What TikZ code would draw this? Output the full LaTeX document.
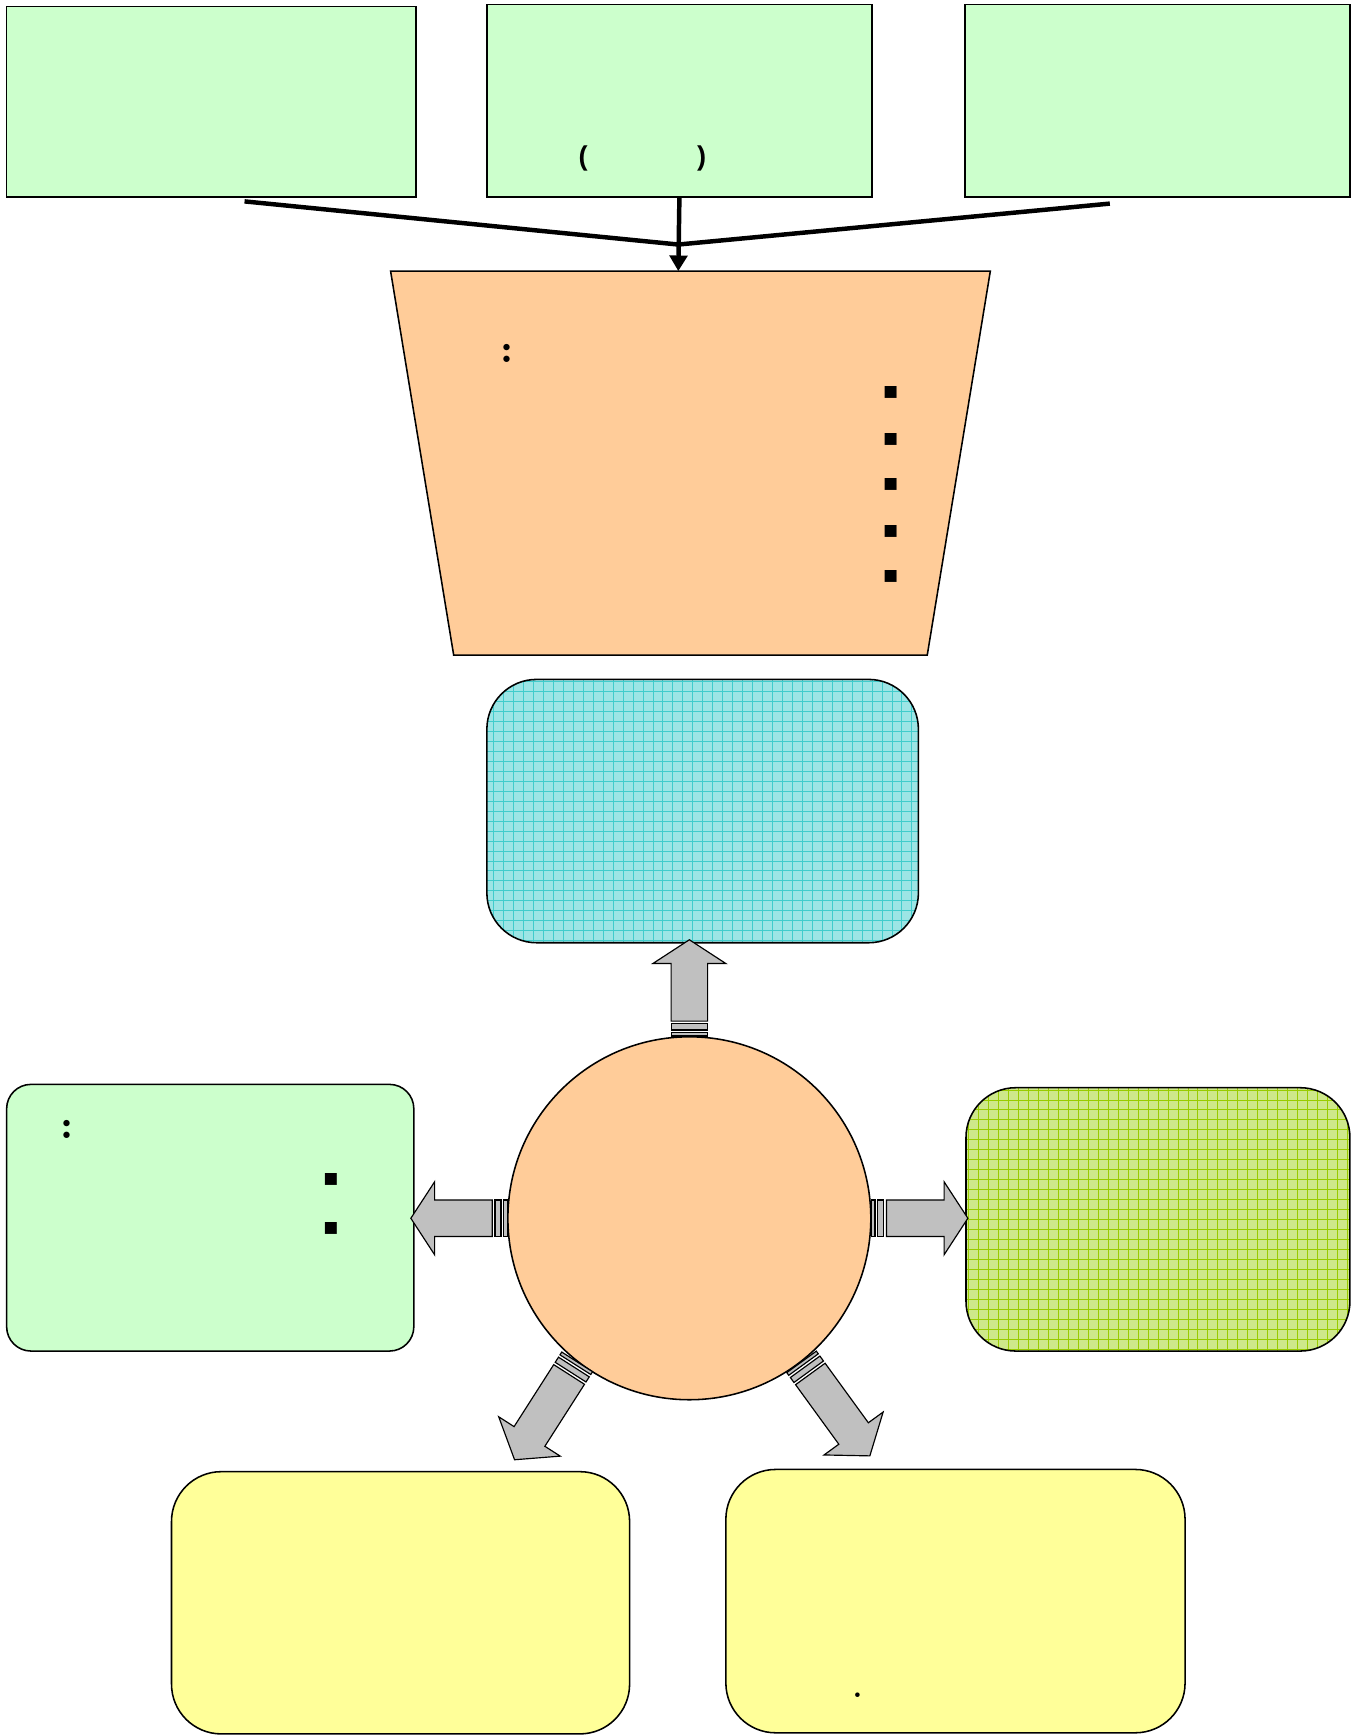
\documentclass[tikz,border=0pt]{standalone}
\usepackage{fontspec}
\setmainfont{Liberation Sans}
\newfontfamily\dejavu{DejaVu Sans}
\newfontfamily\lmfont{lmroman10-bold.otf}
\usetikzlibrary{arrows.meta,calc}
\definecolor{boxgreen}{HTML}{CCFFCC}
\definecolor{boxorange}{HTML}{FFCC99}
\definecolor{boxyellow}{HTML}{FFFF99}
\definecolor{cyanbase}{HTML}{9CE5E5}
\definecolor{cyanline}{HTML}{40CCCC}
\definecolor{limebase}{HTML}{CEE88A}
\definecolor{limeline}{HTML}{99CC00}
\definecolor{arrowgray}{HTML}{C0C0C0}
\begin{document}
\begin{tikzpicture}[x=0.2mm,y=-0.2mm,
  plainbox/.style={draw=black,line width=0.8pt,rectangle,inner sep=0pt},
  roundbox/.style={draw=black,line width=0.8pt,rectangle,rounded corners=9mm,inner sep=0pt},
  gridfill/.style n args={2}{fill=#1,path picture={\draw[#2,line width=0.35pt] (path picture bounding box.south west) grid[step=1.8mm] (path picture bounding box.north east);}},
  connector/.style={line width=2.3pt},
  grayarrow/.style={draw=black,line width=0.6pt,fill=arrowgray,line join=miter},
  punct/.style={inner sep=0pt,font=\bfseries\fontsize{14}{16}\selectfont},
  colonmark/.style={inner sep=0pt,font=\lmfont\fontsize{21}{23}\selectfont},
  dotmark/.style={inner sep=0pt,font=\lmfont\fontsize{15}{17}\selectfont},
  bullet/.style={inner sep=0pt,font=\dejavu\fontsize{8}{9}\selectfont},
  fatarrow/.pic={
    \draw[grayarrow] (0,-16.5) rectangle (3,16.5);
    \draw[grayarrow] (5.5,-16.5) rectangle (11,16.5);
    \draw[grayarrow] (13.5,-16.5) -- (65.5,-16.5) -- (65.5,-33) -- (87,0) -- (65.5,33) -- (65.5,16.5) -- (13.5,16.5) -- cycle;
  },
  longarrow/.pic={
    \draw[grayarrow] (0,-16.5) rectangle (3,16.5);
    \draw[grayarrow] (5.5,-16.5) rectangle (11,16.5);
    \draw[grayarrow] (13.5,-16.5) -- (80,-16.5) -- (80,-33) -- (105,0) -- (80,33) -- (80,16.5) -- (13.5,16.5) -- cycle;
  }]
\useasboundingbox[fill=white] (0,0) rectangle (1229,1568);

% top boxes
\node[plainbox,fill=boxgreen,minimum width=370*0.2mm,minimum height=172*0.2mm] (tl) at (191,92) {};
\node[plainbox,fill=boxgreen,minimum width=348*0.2mm,minimum height=174*0.2mm] (tm) at (614,91) {};
\node[plainbox,fill=boxgreen,minimum width=348*0.2mm,minimum height=174*0.2mm] (tr) at (1046,91) {};
\node[punct] (lp) at (527,143) {(};
\node[punct] (rp) at (634,143) {)};

% trapezoid
\draw[line width=0.8pt,fill=boxorange] (353,245) -- (895,245) -- (838,592) -- (410,592) -- cycle;
\coordinate (traptop) at (613,245);
\node[colonmark] (tcolon) at (458,319) {:};
\foreach \yy [count=\i] in {355,397,438,480,521}
  \node[bullet] (tb\i) at (805,\yy) {■};

% connectors
\coordinate (la) at (221,182);
\coordinate (ra) at (1003,184);
\coordinate (meet) at (613,221);
\draw[connector] (la) -- (meet) -- (ra);
\draw[connector,-{Triangle[width=9pt,length=8pt]}] (tm.south) -- (traptop);

% cyan box
\node[roundbox,gridfill={cyanbase}{cyanline},minimum width=390*0.2mm,minimum height=238*0.2mm] (cyan) at (635,733) {};

% circle
\node[draw=black,line width=0.8pt,circle,fill=boxorange,minimum size=328*0.2mm,inner sep=0pt] (circ) at (623,1101) {};

% side boxes
\node[roundbox,rounded corners=4.4mm,fill=boxgreen,minimum width=368*0.2mm,minimum height=241*0.2mm] (lbox) at (190,1100.5) {};
\node[colonmark] (lcolon) at (61,1021) {:};
\node[bullet] (lb1) at (299,1066) {■};
\node[bullet] (lb2) at (299,1110) {■};

\node[roundbox,gridfill={limebase}{limeline},minimum width=347*0.2mm,minimum height=238*0.2mm] (rbox) at (1046.5,1102) {};

% bottom boxes
\node[roundbox,fill=boxyellow,minimum width=414*0.2mm,minimum height=237*0.2mm] (blbox) at (362,1448.5) {};
\node[roundbox,fill=boxyellow,minimum width=415*0.2mm,minimum height=238*0.2mm] (brbox) at (863.5,1447) {};
\node[dotmark] (bdot) at (775,1532) {.};

% gray arrows
\pic[rotate=90] at (circ.north) {fatarrow};
\pic[rotate=180] at (circ.west) {fatarrow};
\pic[rotate=0] at (circ.east) {fatarrow};
\pic[rotate=-54] at (circ.-52.2) {longarrow};
\pic[rotate=-122.6] at (circ.-128) {longarrow};
\end{tikzpicture}
\end{document}
